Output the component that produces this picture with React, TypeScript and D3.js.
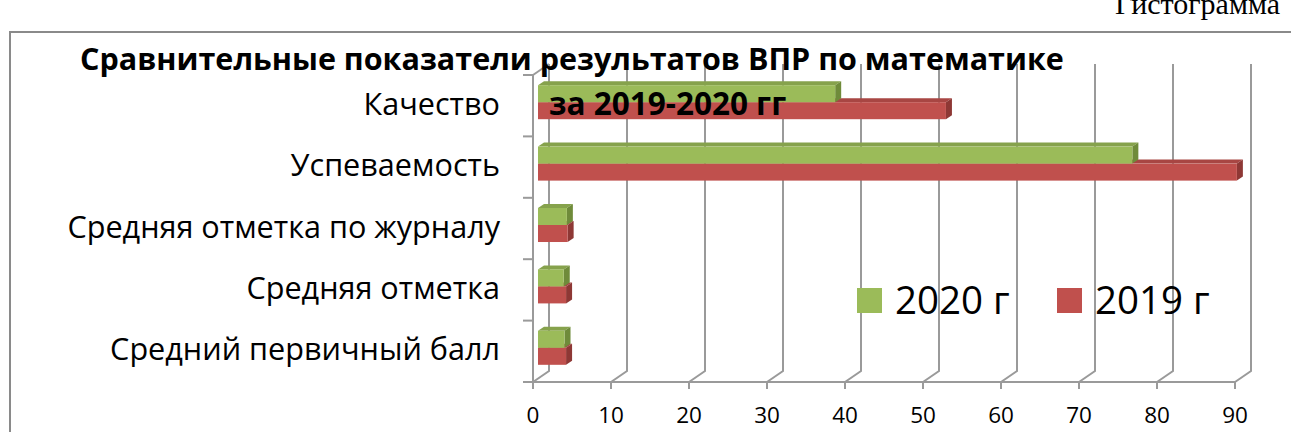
import React from "react";
import * as d3 from "d3";

const categories = [
  "Качество",
  "Успеваемость",
  "Средняя отметка по журналу",
  "Средняя отметка",
  "Средний первичный балл",
];
const values2020 = [38.1, 76.2, 3.7, 3.3, 3.4];
const values2019 = [52.3, 89.6, 3.8, 3.6, 3.6];
const seriesNames = ["2020 г", "2019 г"];
const xTicks = [0, 10, 20, 30, 40, 50, 60, 70, 80, 90];
const titleLine1 = "Сравнительные показатели результатов ВПР по математике";
const titleLine2 = "за 2019-2020 гг";
const captionText = "Гистограмма";

const W = 1291;
const H = 432;
const FONT = "'Open Sans', 'Noto Sans', sans-serif";

// geometry
const frontLeft = 533;
const frontRight = 1235;
const frontTop = 75;
const frontBottom = 382;
const wallDx = 16;
const wallDy = -11;
const barDx = 6;
const barDy = -4;
const barOffX = 5;
const barOffY = -3.5;

const colors: Record<string, { front: string; top: string; side: string }> = {
  "2020 г": { front: "#9BBB59", top: "#86A24C", side: "#6F8B3A" },
  "2019 г": { front: "#C0504D", top: "#A84643", side: "#8E3835" },
};
const gridColor = "#9a9a9a";

export default function App() {
  const x = d3.scaleLinear().domain([0, 90]).range([frontLeft, frontRight]);
  const y = d3
    .scaleBand<string>()
    .domain(categories)
    .range([frontTop, frontBottom])
    .paddingInner(0.446)
    .paddingOuter(0.223);
  const ySub = d3
    .scaleBand<string>()
    .domain(seriesNames)
    .range([0, y.bandwidth()]);

  const boundaries = d3.range(categories.length + 1).map((i) => frontTop + i * y.step());

  const dataBySeries: Record<string, number[]> = {
    "2020 г": values2020,
    "2019 г": values2019,
  };

  const bars: JSX.Element[] = [];
  categories.forEach((cat, i) => {
    // draw lower series (2019) first, then upper (2020)
    ["2019 г", "2020 г"].forEach((s) => {
      const v = dataBySeries[s][i];
      const y0 = (y(cat) as number) + (ySub(s) as number) + barOffY;
      const h = ySub.bandwidth();
      const x0 = x(0) + barOffX;
      const x1 = x(v) + barOffX;
      const c = colors[s];
      bars.push(
        <g key={cat + s}>
          <polygon
            points={`${x0},${y0} ${x1},${y0} ${x1 + barDx},${y0 + barDy} ${x0 + barDx},${y0 + barDy}`}
            fill={c.top}
          />
          <polygon
            points={`${x1},${y0} ${x1 + barDx},${y0 + barDy} ${x1 + barDx},${y0 + h + barDy} ${x1},${y0 + h}`}
            fill={c.side}
          />
          <rect x={x0} y={y0} width={x1 - x0} height={h} fill={c.front} />
        </g>
      );
    });
  });

  const legendX = d3.scaleOrdinal<string, number>().domain(seriesNames).range([857, 1057]);

  return (
    <div style={{ position: "absolute", left: 0, top: 0, width: W, height: H, background: "#fff" }}>
      <svg width={W} height={H} style={{ display: "block" }}>
        <rect x={0} y={0} width={W} height={H} fill="#fff" />
        <text
          x={1280}
          y={14}
          textAnchor="end"
          fontFamily="'Liberation Serif', 'Times New Roman', serif"
          fontSize={30}
          fill="#000"
        >
          {captionText}
        </text>
        <rect x={10} y={32} width={W + 20} height={H + 20} fill="none" stroke="#8a8a8a" strokeWidth={2} />

        {/* back wall gridlines with floor diagonals */}
        {xTicks.map((t) => {
          const fx = x(t);
          return (
            <path
              key={"g" + t}
              d={`M${fx},${frontBottom} L${fx + wallDx},${frontBottom + wallDy} L${fx + wallDx},${frontTop + wallDy}`}
              fill="none"
              stroke={gridColor}
              strokeWidth={2}
            />
          );
        })}
        {/* left wall top edge */}
        <path
          d={`M${frontLeft},${frontTop} L${frontLeft + wallDx},${frontTop + wallDy}`}
          stroke={gridColor}
          strokeWidth={2}
          fill="none"
        />
        {/* vertical (category) axis */}
        <line x1={frontLeft} y1={frontTop} x2={frontLeft} y2={frontBottom} stroke={gridColor} strokeWidth={2} />
        {boundaries.map((b, i) => (
          <line key={"ct" + i} x1={frontLeft - 10} y1={b} x2={frontLeft} y2={b} stroke={gridColor} strokeWidth={2} />
        ))}
        {/* horizontal (value) axis */}
        <line x1={frontLeft} y1={frontBottom} x2={frontRight} y2={frontBottom} stroke={gridColor} strokeWidth={2} />
        {xTicks.map((t) => (
          <line key={"xt" + t} x1={x(t)} y1={frontBottom} x2={x(t)} y2={frontBottom + 7} stroke={gridColor} strokeWidth={2} />
        ))}

        {bars}

        {/* tick labels */}
        {xTicks.map((t) => (
          <text
            key={"xl" + t}
            x={x(t)}
            y={423}
            textAnchor="middle"
            fontFamily={FONT}
            fontSize={22.5}
            fill="#000"
          >
            {t}
          </text>
        ))}
        {categories.map((c) => (
          <text
            key={"cl" + c}
            x={500}
            y={(y(c) as number) + y.bandwidth() / 2 - 2}
            dy="0.36em"
            textAnchor="end"
            fontFamily={FONT}
            fontSize={30.6}
            fill="#000"
          >
            {c}
          </text>
        ))}

        {/* title */}
        <text x={80} y={70} fontFamily={FONT} fontWeight="bold" fontSize={30.5} fill="#000">
          {titleLine1}
        </text>
        <text x={549} y={115} fontFamily={FONT} fontWeight="bold" fontSize={31.5} fill="#000">
          {titleLine2}
        </text>

        {/* legend */}
        {seriesNames.map((s) => (
          <g key={"lg" + s}>
            <rect x={legendX(s)} y={288} width={25} height={25} fill={colors[s].front} />
            <text x={legendX(s) + 38} y={314} fontFamily={FONT} fontSize={38.5} fill="#000">
              {s}
            </text>
          </g>
        ))}
      </svg>
    </div>
  );
}
